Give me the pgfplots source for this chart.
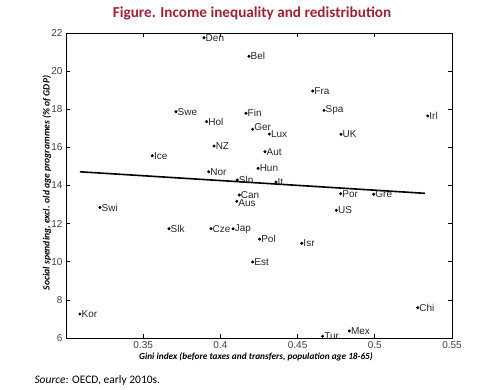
\documentclass[border=0pt]{standalone}
\usepackage{pgfplots}
\pgfplotsset{compat=1.18}
\usepackage{fontspec}
\setmainfont{Liberation Sans}
\newfontfamily\carl{Carlito}
\definecolor{titlered}{HTML}{9B2335}
\pgfplotstableread{
x y lab
0.3894 21.75 Den
0.4185 20.78 Bel
0.3712 17.87 Swe
0.3911 17.35 Hol
0.4166 17.79 Fin
0.4317 16.70 Lux
0.3959 16.07 NZ
0.3559 15.56 Ice
0.4289 15.77 Aut
0.3924 14.72 Nor
0.4244 14.90 Hun
0.4109 14.29 Sln
0.4360 14.18 It
0.4122 13.50 Can
0.3220 12.85 Swi
0.3667 11.73 Slk
0.3939 11.73 Cze
0.4082 11.73 Jap
0.4254 11.19 Pol
0.4209 9.99 Est
0.3090 7.26 Kor
0.4779 13.57 Por
0.4993 13.54 Gre
0.4751 12.70 US
0.4527 10.97 Isr
0.5278 7.59 Chi
0.4662 6.09 Tur
0.4835 6.37 Mex
0.4598 18.96 Fra
0.4671 17.94 Spa
0.4781 16.69 UK
0.5343 17.65 Irl
}\pts
\pgfplotstableread{
x y lab
0.4209 16.95 Ger
}\ptsup
\pgfplotstableread{
x y lab
0.4106 13.17 Aus
}\ptsdown
\begin{document}
\begin{tikzpicture}
\useasboundingbox (0,0) rectangle (500pt,-389pt);
\node[font=\carl\bfseries\fontsize{15.2}{17}\selectfont, text=titlered] at (252pt,-13pt) {Figure. Income inequality and redistribution};
\begin{axis}[
  at={(66pt,-338pt)}, anchor=south west,
  scale only axis, width=386pt, height=305pt,
  xmin=0.30, xmax=0.55, ymin=6, ymax=22,
  xtick={0.35,0.4,0.45,0.5,0.55},
  ytick={6,8,...,22},
  tick pos=both, tick align=inside,
  major tick length=4pt,
  axis line style={line width=0.9pt},
  every tick/.style={black, line width=0.7pt},
  /pgf/number format/assume math mode=true,
  ticklabel style={font=\fontsize{10}{12}\selectfont, text=black!75},
  clip=false,
]
\addplot[only marks, mark=*, mark size=1.3pt, black,
  nodes near coords, point meta=explicit symbolic,
  every node near coord/.append style={anchor=west, font=\fontsize{10}{12}\selectfont, inner sep=1.5pt, text=black!85}
] table[x=x, y=y, meta=lab] {\pts};
\addplot[only marks, mark=*, mark size=1.3pt, black,
  nodes near coords, point meta=explicit symbolic,
  every node near coord/.append style={anchor=west, yshift=2pt, font=\fontsize{10}{12}\selectfont, inner sep=1.5pt, text=black!85}
] table[x=x, y=y, meta=lab] {\ptsup};
\addplot[only marks, mark=*, mark size=1.3pt, black,
  nodes near coords, point meta=explicit symbolic,
  every node near coord/.append style={anchor=west, yshift=-1.5pt, font=\fontsize{10}{12}\selectfont, inner sep=1.5pt, text=black!85}
] table[x=x, y=y, meta=lab] {\ptsdown};
\addplot[black, line width=1.6pt] coordinates {(0.309,14.72) (0.5325,13.59)};
\end{axis}
\node[rotate=90, font=\carl\bfseries\itshape\fontsize{9.6}{11}\selectfont] at (47pt,-183pt) {Social spending, excl. old age programmes (\% of GDP)};
\node[font=\carl\bfseries\itshape\fontsize{9.3}{11}\selectfont] at (256pt,-357pt) {Gini index (before taxes and transfers, population age 18-65)};
\node[anchor=west, font=\carl\fontsize{11.5}{13}\selectfont] at (31pt,-380pt) {\textit{Source}: OECD, early 2010s.};
\end{tikzpicture}
\end{document}
